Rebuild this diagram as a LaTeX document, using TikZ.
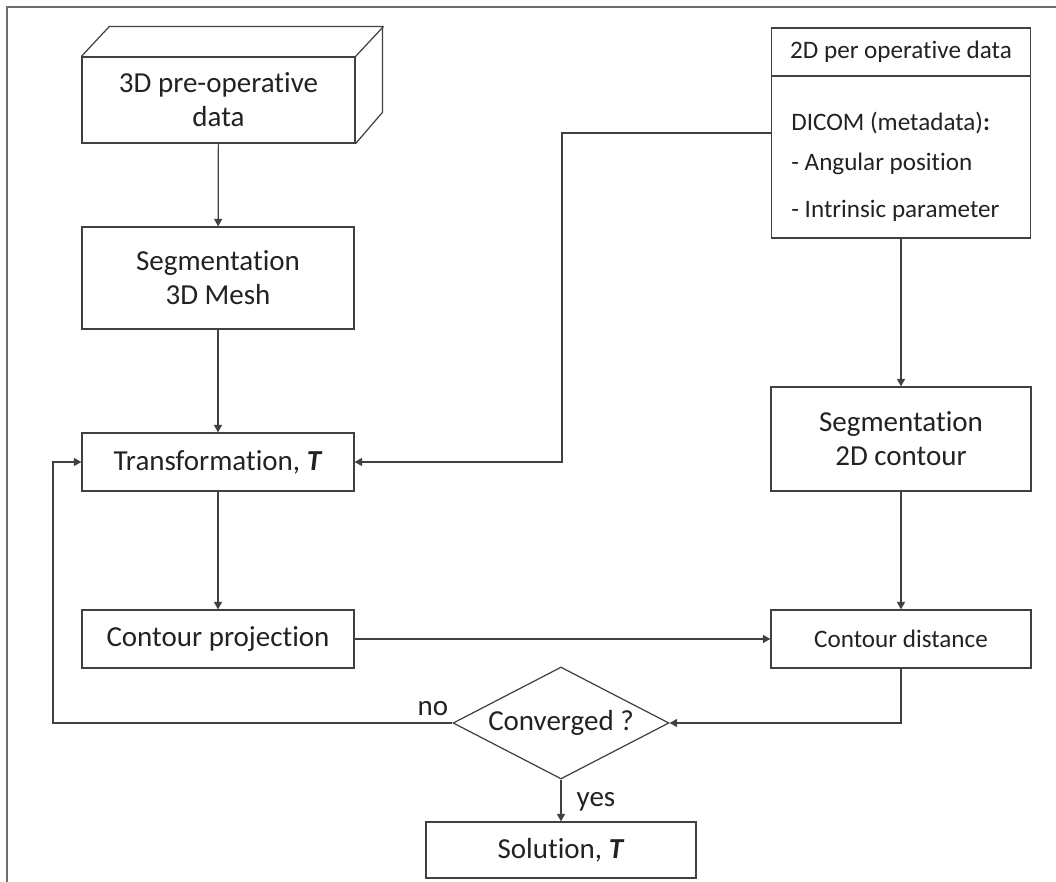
\documentclass[tikz,border=0pt]{standalone}
\usepackage{fontspec}
\setmainfont{Carlito}[Ligatures={NoCommon,NoContextual,NoRequired},Contextuals=NoAlternate]
\usetikzlibrary{shapes.geometric,arrows.meta}

\definecolor{linegray}{HTML}{404040}
\definecolor{textgray}{HTML}{222222}
\definecolor{framegray}{HTML}{6E6E6E}

\tikzset{
    box/.style={draw=linegray, line width=0.7pt, text=textgray, align=center,
        minimum width=5.44cm, minimum height=1.16cm, inner sep=2pt,
        font=\fontsize{16.5}{19.5}\selectfont},
    smallbox/.style={box, minimum width=5.2cm, font=\fontsize{14.3}{17}\selectfont},
    smalltext/.style={text=textgray, inner sep=0pt, anchor=base west,
        font=\fontsize{14.3}{17}\selectfont},
    decision/.style={diamond, draw=linegray, line width=0.7pt, text=textgray,
        minimum width=4.32cm, minimum height=2.24cm, aspect=1.93, inner sep=0pt,
        font=\fontsize{16.5}{19.5}\selectfont},
    lbl/.style={text=textgray, inner sep=0pt, font=\fontsize{16.5}{19.5}\selectfont},
    arr/.style={draw=linegray, line width=0.7pt, -{Triangle[length=1.5mm,width=1.6mm]}}
}

\begin{document}
\begin{tikzpicture}[x=0.02cm, y=-0.02cm]
    \useasboundingbox (0,0) rectangle (1056,882);
    \draw[framegray, line width=0.8pt] (7,882) -- (7,7) -- (1056,7);

    % left column
    \node[box, minimum width=5.46cm, minimum height=1.72cm] (pre) at (218.5,100) {3D pre-operative\\data};
    \draw[linegray, line width=0.7pt] (pre.north west) -- ++(28,-30) -- ++(273,0) -- ++(0,86) -- (pre.south east);
    \draw[linegray, line width=0.7pt] (pre.north east) -- ++(28,-30);
    \node[box, minimum height=2.04cm] (seg3d) at (218,278) {Segmentation\\3D Mesh};
    \node[box] (trans) at (218,462) {Transformation, \textbf{\textit{T}}};
    \node[box] (proj) at (218,639) {Contour projection};

    % right column
    \node[smallbox, minimum width=5.18cm, minimum height=0.96cm] (title) at (901,52) {2D per operative data};
    \node[draw=linegray, line width=0.7pt, minimum width=5.18cm, minimum height=3.24cm] (meta) at (901,157) {};
    \node[smalltext] (dicom) at (791,131) {DICOM (metadata)\textbf{:}};
    \node[smalltext] (angle) at (791,171) {- Angular position};
    \node[smalltext] (intr) at (791,217) {- Intrinsic parameter};
    \node[box, minimum width=5.2cm, minimum height=2.08cm] (seg2d) at (901,439) {Segmentation\\2D contour};
    \node[smallbox] (dist) at (901,639) {Contour distance};

    % loop test and result
    \node[decision] (conv) at (561,723) {Converged ?};
    \node[box, minimum width=5.4cm, minimum height=1.12cm] (sol) at (561,850) {Solution, \textbf{\textit{T}}};
    \node[lbl] (no) at (433,709) {no};
    \node[lbl] (yes) at (596,802) {yes};

    \coordinate (bend) at (562,300);
    \coordinate (loop) at (53,600);

    \draw[arr] (pre) -- (seg3d);
    \draw[arr] (seg3d) -- (trans);
    \draw[arr] (trans) -- (proj);
    \draw[arr] (proj) -- (dist);
    \draw[arr] (meta) -- (seg2d);
    \draw[arr] (seg2d) -- (dist);
    \draw[arr] ([yshift=0.48cm]meta.west) -| (bend) |- (trans.east);
    \draw[arr] (dist.south) |- (conv.east);
    \draw[arr] (conv.west) -| (loop) |- (trans.west);
    \draw[arr] (conv) -- (sol);
\end{tikzpicture}
\end{document}
